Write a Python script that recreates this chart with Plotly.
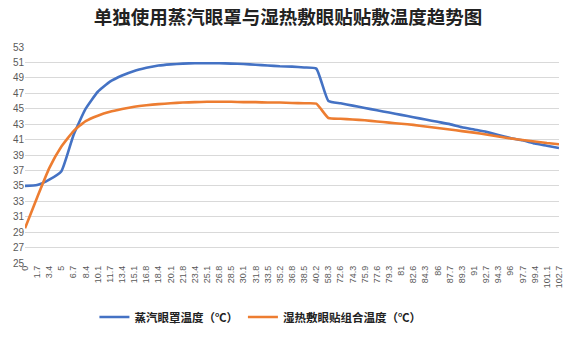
import plotly.graph_objects as go

categories = ["0", "1.7", "3.4", "5", "6.7", "8.4", "10.1", "11.7", "13.4", "15.1",
              "16.8", "18.4", "20.1", "21.8", "23.4", "25.1", "26.8", "28.5", "30.1", "31.8",
              "33.5", "35.2", "36.8", "38.5", "40.2", "58.3", "72.6", "74.3", "75.9", "77.6",
              "79.3", "81", "82.6", "84.3", "86", "87.7", "89.3", "91", "92.7", "94.3",
              "96", "97.7", "99.4", "101.1", "102.7"]

steam_mask = [35.0, 35.1, 35.8, 36.9, 41.6, 45.0, 47.2, 48.5, 49.3, 49.9,
              50.3, 50.6, 50.75, 50.85, 50.9, 50.9, 50.9, 50.85, 50.8, 50.7,
              50.6, 50.5, 50.45, 50.35, 50.2, 46.0, 45.7, 45.4, 45.1, 44.8,
              44.5, 44.2, 43.9, 43.6, 43.3, 43.0, 42.6, 42.3, 42.0, 41.6,
              41.2, 40.9, 40.5, 40.2, 39.9]

patch_combo = [29.5, 33.5, 37.3, 40.1, 42.1, 43.4, 44.1, 44.6, 44.95, 45.25,
               45.45, 45.6, 45.7, 45.8, 45.85, 45.9, 45.9, 45.9, 45.85, 45.85,
               45.8, 45.8, 45.75, 45.7, 45.65, 43.8, 43.7, 43.6, 43.5, 43.35,
               43.2, 43.05, 42.9, 42.7, 42.5, 42.3, 42.1, 41.9, 41.65, 41.4,
               41.15, 40.95, 40.75, 40.55, 40.4]

y_ticks = list(range(25, 54, 2))

fig = go.Figure()
fig.add_trace(go.Scatter(
    x=categories, y=steam_mask, mode="lines", name="<b>蒸汽眼罩温度（℃）</b>",
    line=dict(color="#4472C4", width=2.6, shape="spline", smoothing=0.45)))
fig.add_trace(go.Scatter(
    x=categories, y=patch_combo, mode="lines", name="<b>湿热敷眼贴组合温度（℃）</b>",
    line=dict(color="#ED7D31", width=2.6, shape="spline", smoothing=0.45)))

fig.update_layout(
    width=576, height=344,
    margin=dict(l=25, r=12, t=47, b=76),
    paper_bgcolor="white", plot_bgcolor="white",
    title=dict(text="<b>单独使用蒸汽眼罩与湿热敷眼贴贴敷温度趋势图</b>",
               x=0.5, xanchor="center", y=0.95, yanchor="middle",
               font=dict(family="Noto Sans CJK SC", size=18.5, color="#222222")),
    legend=dict(orientation="h", x=0.13, xanchor="left", y=-0.25, yanchor="middle",
                font=dict(family="Noto Sans CJK SC", size=11.5, color="#222222"),
                itemwidth=30, bgcolor="rgba(0,0,0,0)"),
    showlegend=True,
)
fig.update_xaxes(
    type="category", range=[0, len(categories) - 1],
    tickmode="array", tickvals=categories, ticktext=categories,
    tickangle=-90, tickfont=dict(family="Liberation Sans", size=9, color="#595959"),
    showgrid=False, showline=False, zeroline=False, ticks="")
fig.update_yaxes(
    range=[25, 53], tickmode="array", tickvals=y_ticks,
    tickfont=dict(family="Liberation Sans", size=10, color="#595959"),
    showgrid=True, gridcolor="#D9D9D9", gridwidth=1, zeroline=False,
    showline=False, ticks="")

fig.write_html("out.html")
